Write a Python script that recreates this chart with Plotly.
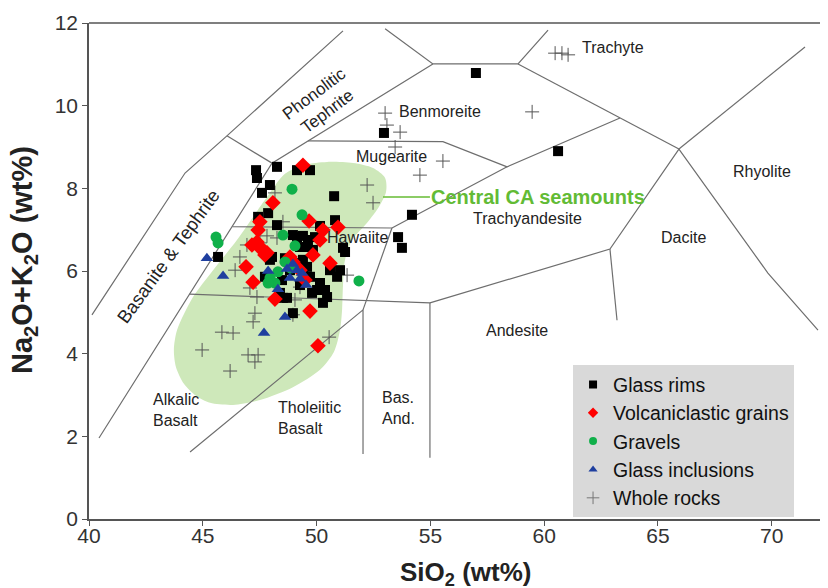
import plotly.graph_objects as go

# ---------------- data (SiO2 wt%, Na2O+K2O wt%) ----------------
glass_rims_x = [47.34, 47.38, 48.26, 49.14, 49.71, 47.95, 47.60, 50.77, 47.43, 47.87, 50.81, 48.26, 50.15,
                48.96, 49.14, 49.40, 49.62, 49.58, 51.16, 51.25, 49.27, 45.67, 47.95, 49.14, 49.40, 49.58,
                49.71, 50.02, 50.46, 50.59, 51.03, 50.90, 50.28, 48.96, 48.39, 48.52, 48.70, 47.73, 48.48,
                49.80, 52.96, 57.00, 60.61, 54.19, 53.58, 53.75, 49.84, 49.93, 48.83, 49.27, 50.15, 50.37,
                49.40, 48.04, 48.61]
glass_rims_y = [8.44, 8.25, 8.52, 8.44, 8.44, 8.08, 7.89, 7.81, 7.31, 7.40, 7.23, 7.11, 7.09,
                6.87, 6.82, 6.85, 6.75, 6.58, 6.56, 6.46, 6.58, 6.34, 6.27, 6.19, 6.27, 6.10,
                5.86, 5.54, 5.37, 6.02, 6.02, 5.86, 5.23, 4.98, 5.47, 5.35, 5.35, 5.86, 5.78,
                5.47, 9.34, 10.79, 8.90, 7.36, 6.82, 6.56, 6.51, 6.82, 6.02, 5.66, 5.71, 5.54,
                6.07, 6.34, 6.31]

volc_x = [49.40, 48.08, 47.51, 47.43, 49.67, 50.94, 50.28, 50.15, 47.16, 47.51, 47.82, 47.38, 47.65,
          49.84, 48.83, 50.59, 46.90, 47.21, 48.17, 49.71, 50.06, 49.27, 48.96, 49.49, 47.73]
volc_y = [8.56, 7.65, 7.19, 6.99, 7.21, 7.06, 6.99, 6.75, 6.63, 6.56, 6.44, 6.70, 6.51,
          6.39, 6.34, 6.19, 6.10, 5.73, 5.32, 5.03, 4.19, 6.02, 6.22, 5.78, 6.39]

gravels_x = [45.58, 45.67, 48.92, 49.36, 48.52, 49.05, 48.61, 47.95, 48.17, 47.87, 51.86, 48.30, 48.87]
gravels_y = [6.82, 6.68, 7.98, 7.36, 6.87, 6.61, 6.22, 5.83, 5.71, 5.71, 5.76, 5.98, 6.07]

incl_x = [45.18, 45.89, 47.87, 48.70, 48.96, 49.36, 49.27, 49.54, 48.83, 48.30, 48.61, 47.69, 49.14]
incl_y = [6.31, 5.88, 6.00, 6.05, 6.17, 5.95, 5.81, 5.66, 5.83, 5.56, 4.89, 4.50, 6.02]

whole_x = [53.01, 53.09, 53.67, 53.45, 55.55, 54.54, 52.22, 52.48, 59.47, 60.48, 60.78, 61.05,
           44.97, 45.84, 46.33, 46.20, 46.99, 47.43, 47.29, 47.21, 47.29, 47.07, 47.38, 46.63,
           46.42, 50.55, 48.96, 49.05, 47.82, 47.51, 46.94, 48.17, 48.52, 51.34, 49.27, 48.26]
whole_y = [9.82, 9.53, 9.36, 9.00, 8.66, 8.32, 8.08, 7.65, 9.85, 11.27, 11.27, 11.23,
           4.09, 4.52, 4.50, 3.58, 3.97, 3.97, 3.80, 4.77, 4.98, 5.59, 5.37, 6.34,
           6.02, 4.40, 4.94, 5.30, 6.85, 6.68, 6.63, 7.89, 7.19, 5.90, 5.61, 6.80]

# Central CA seamounts field outline
field_x = [48.61, 49.49, 50.46, 51.60, 52.48, 53.01, 53.05, 52.70, 52.13, 51.56, 51.25, 51.16, 51.12,
           51.03, 50.76, 50.15, 48.96, 47.51, 46.33, 45.32, 44.70, 44.17, 43.82, 43.73, 43.87, 44.57,
           45.45, 46.50, 47.82, 48.61]
field_y = [8.35, 8.57, 8.64, 8.61, 8.49, 8.25, 7.91, 7.52, 7.11, 6.75, 6.27, 5.66, 5.06,
           4.57, 4.04, 3.61, 3.19, 2.88, 2.76, 2.81, 2.98, 3.27, 3.68, 4.09, 4.57, 5.37,
           6.02, 6.75, 7.79, 8.35]

# TAS field boundaries (polylines)
boundaries = [
    [(40.13, 4.94), (44.22, 8.37), (46.06, 9.27), (51.16, 11.81)],
    [(46.06, 9.27), (48.04, 8.61)],
    [(40.44, 1.96), (48.04, 8.61), (55.11, 11.01)],
    [(53.01, 11.86), (55.11, 11.01), (58.85, 11.01), (60.17, 11.83)],
    [(58.85, 11.01), (63.33, 9.70), (65.92, 8.95)],
    [(65.92, 8.95), (71.46, 11.42)],
    [(65.92, 8.95), (69.83, 5.95), (72.03, 4.57)],
    [(65.92, 8.95), (62.89, 6.53), (54.98, 5.23)],
    [(62.89, 6.53), (63.20, 4.81)],
    [(63.33, 9.70), (58.37, 8.52), (53.31, 7.04)],
    [(49.62, 9.15), (55.55, 9.13), (58.37, 8.52)],
    [(46.30, 7.07), (53.31, 7.04)],
    [(44.42, 5.44), (54.98, 5.23)],
    [(53.31, 7.04), (52.04, 5.06)],
    [(44.44, 1.62), (52.04, 5.06), (52.04, 1.57)],
    [(54.98, 5.23), (54.98, 1.48)],
]

# field labels: (text, x, y, angle, anchor, size)
field_labels = [
    ("Trachyte", 63.02, 11.40, 0, "center", 16),
    ("Phonolitic<br>Tephrite", 50.19, 10.07, -37, "center", 17),
    ("Benmoreite", 55.42, 9.87, 0, "center", 16),
    ("Mugearite", 53.31, 8.78, 0, "center", 16),
    ("Hawaiite", 51.78, 6.80, 0, "center", 16),
    ("Trachyandesite", 59.25, 7.26, 0, "center", 16),
    ("Rhyolite", 69.57, 8.40, 0, "center", 16),
    ("Dacite", 66.14, 6.82, 0, "center", 16),
    ("Andesite", 58.81, 4.55, 0, "center", 16),
    ("Bas.<br>And.", 52.79, 2.69, 0, "left", 16),
    ("Tholeiitic<br>Basalt", 48.22, 2.44, 0, "left", 16),
    ("Alkalic<br>Basalt", 42.72, 2.64, 0, "left", 16),
    ("Basanite & Tephrite", 43.47, 6.36, -54, "center", 18.5),
]

leader_x = [52.92, 54.98]
leader_y = [7.79, 7.79]

FONT = "Liberation Sans, Arial, sans-serif"

# ---------------- figure ----------------
fig = go.Figure()

fig.add_trace(go.Scatter(x=field_x, y=field_y, mode="lines", fill="toself",
                         fillcolor="rgb(206,232,186)", line=dict(width=0, shape="spline", smoothing=0.8),
                         hoverinfo="skip", showlegend=False))

for seg in boundaries:
    fig.add_trace(go.Scatter(x=[p[0] for p in seg], y=[p[1] for p in seg], mode="lines",
                             line=dict(color="#6e6e6e", width=1.2), hoverinfo="skip", showlegend=False))

fig.add_trace(go.Scatter(x=leader_x, y=leader_y, mode="lines",
                         line=dict(color="#66bb33", width=1.3), hoverinfo="skip", showlegend=False))

series = [
    ("Whole rocks", whole_x, whole_y, "cross-thin", "#555555", 10),
    ("Glass rims", glass_rims_x, glass_rims_y, "square", "#000000", 10),
    ("Volcaniclastic grains", volc_x, volc_y, "diamond", "#ff0000", 12),
    ("Gravels", gravels_x, gravels_y, "circle", "#10b04a", 11),
    ("Glass inclusions", incl_x, incl_y, "triangle-up", "#1f3f9f", 11),
]
for name, xs, ys, sym, col, sz in series:
    if sym == "cross-thin":
        mk = dict(symbol=sym, size=sz, line=dict(color=col, width=1))
    else:
        mk = dict(symbol=sym, size=sz, color=col, line=dict(width=0))
    fig.add_trace(go.Scatter(x=xs, y=ys, mode="markers", marker=mk, name=name, showlegend=False))

# legend entries (smaller symbols as in the reference legend)
legend_order = ["Glass rims", "Volcaniclastic grains", "Gravels", "Glass inclusions", "Whole rocks"]
sty = {s[0]: s for s in series}
for nm in legend_order:
    _, _, _, sym, col, _ = sty[nm]
    if sym == "cross-thin":
        mk = dict(symbol=sym, size=9, line=dict(color="#777777", width=1))
    else:
        mk = dict(symbol=sym, size=8, color=col, line=dict(width=0))
    fig.add_trace(go.Scatter(x=[None], y=[None], mode="markers", marker=mk, name=nm, showlegend=True))

for txt, x, y, ang, anc, fs in field_labels:
    fig.add_annotation(x=x, y=y, text=txt, showarrow=False, textangle=ang, xanchor=anc,
                       align="left" if anc == "left" else "center",
                       font=dict(family=FONT, size=fs, color="#222222"))

fig.add_annotation(x=59.73, y=7.79, text="<b>Central CA seamounts</b>", showarrow=False,
                   font=dict(family=FONT, size=20, color="#62bb35"))

# axis titles
fig.add_annotation(xref="paper", yref="paper", x=0.509, y=-0.109, xanchor="center", yanchor="middle",
                   text="<b>SiO<sub>2</sub> (wt%)</b>",
                   showarrow=False, font=dict(family=FONT, size=26, color="#222222"))
fig.add_annotation(xref="paper", yref="paper", x=-0.088, y=0.522, xanchor="center", yanchor="middle",
                   textangle=-90, text="<b>Na<sub>2</sub>O+K<sub>2</sub>O (wt%)</b>",
                   showarrow=False, font=dict(family=FONT, size=29, color="#222222"))

fig.add_shape(type="line", xref="paper", yref="paper", x0=0, x1=1, y0=1, y1=1,
              line=dict(color="#555555", width=1.5))

# the page body adds an 8px offset; size the figure so the plot area lands where the reference has it
fig.update_layout(
    width=820, height=580,
    margin=dict(l=81, r=0, t=15, b=69, autoexpand=False),
    paper_bgcolor="white", plot_bgcolor="white",
    font=dict(family=FONT, color="#222222"),
    legend=dict(x=0.655, y=0.31, xanchor="left", yanchor="top", bgcolor="#d9d9d9",
                font=dict(family=FONT, size=19.5, color="#111111"), itemwidth=30, tracegroupgap=0,
                borderwidth=0),
    xaxis=dict(range=[40, 72.47], tickvals=[40, 45, 50, 55, 60, 65, 70], ticks="outside", ticklen=5,
               tickcolor="#555555", showline=True, linecolor="#555555", linewidth=1.5,
               showgrid=False, zeroline=False, tickfont=dict(size=21, color="#333333"),
               ticklabelstandoff=-8, automargin=False),
    yaxis=dict(range=[0, 12], dtick=2, ticks="outside", ticklen=5,
               tickcolor="#555555", showline=True, linecolor="#555555", linewidth=1.5,
               showgrid=False, zeroline=False, tickfont=dict(size=21, color="#333333"),
               automargin=False),
)

fig.write_html("out.html")
